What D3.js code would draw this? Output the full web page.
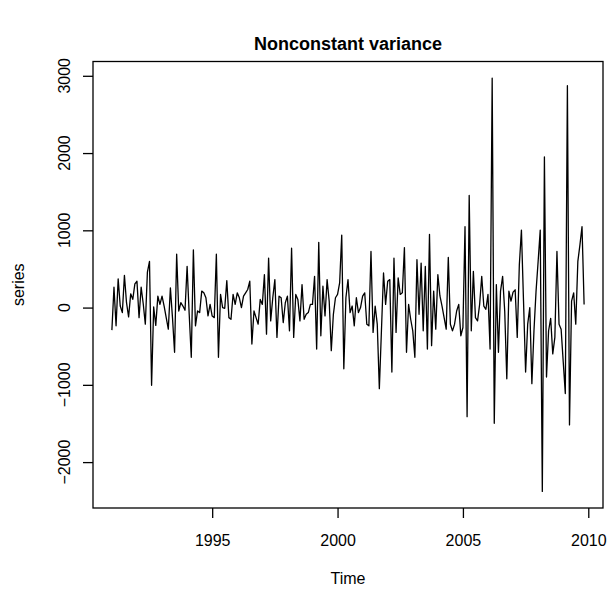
<!DOCTYPE html>
<html>
<head>
<meta charset="utf-8">
<script src="https://cdn.jsdelivr.net/npm/d3@7"></script>
<style>
  html, body { margin: 0; padding: 0; background: #fff; }
  svg { display: block; font-family: "Liberation Sans", Arial, Helvetica, sans-serif; }
</style>
</head>
<body>
<svg id="chart" width="609" height="596"></svg>
<script>
// ---- data ----
const chartTitle = "Nonconstant variance";
const xLabel = "Time";
const yLabel = "series";
const startYear = 1991;
const frequency = 12;
const seriesValues = [
  -292, 264, -236, 371, 20, -65, 418, 63, -121, 178, 106, 307,
  341, -130, 264, 50, -215, 460, 597, -1006, 8, -230, 148, 41,
  148, 20, -130, -280, 255, -130, -579, 691, -44, 63, 20, -35,
  533, -87, -643, 747, -236, -44, -65, 213, 191, 127, -108, 41,
  -110, -130, 691, -643, 170, 0, -10, 349, -130, -151, 170, 41,
  191, 127, 0, 148, 191, 234, 341, -472, -44, -130, -215, 106,
  41, 426, -344, 640, -172, 127, 362, -386, 148, 127, -194, 63,
  148, -301, 768, -386, 170, 106, -172, 298, -151, -87, -65, 41,
  41, 405, -536, 845, -365, 277, -108, 362, 84, -557, -87, 127,
  170, 319, 939, -793, 127, 362, -65, 20, -236, 127, -65, 0,
  148, 191, -215, -236, 726, -322, 20, -215, -1049, -300, 448, 41,
  341, 362, -835, 640, -322, 384, 170, 191, 777, -579, 41, -151,
  -301, -643, 619, -87, 576, -301, 533, -536, 948, -493, 213, -280,
  426, 150, 20, -130, -280, 650, -215, -301, -215, -44, 41, -365,
  -258, 1047, -1412, 1452, -301, 469, -130, -172, 41, 405, 20, -22,
  170, -536, 2971, -1498, 298, -579, 213, 405, -44, -921, 213, 84,
  200, 230, -386, 554, 1003, 84, -835, -215, 0, -985, -301, 213,
  600, 1003, -2380, 1950, -899, -300, -140, -600, -386, 726, -215, -280,
  -700, -1113, 2871, -1519, 84, 191, -215, 597, 811, 1047, 41
];
const xTickValues = [1995, 2000, 2005, 2010];
const yTickValues = [-2000, -1000, 0, 1000, 2000, 3000];

// ---- layout ----
const box = { left: 93, right: 603, top: 61.5, bottom: 508 };
const fontSize = 16;
const tickLen = 10;

const points = seriesValues.map((v, i) => ({ t: startYear + i / frequency, v }));
const t0 = d3.min(points, d => d.t), t1 = d3.max(points, d => d.t);
const tr = t1 - t0;
const vmin = d3.min(points, d => d.v), vmax = d3.max(points, d => d.v);
const vr = vmax - vmin;

const x = d3.scaleLinear().domain([t0 - 0.04 * tr, t1 + 0.04 * tr]).range([box.left, box.right]);
const y = d3.scaleLinear().domain([vmin - 0.04 * vr, vmax + 0.04 * vr]).range([box.bottom, box.top]);

const svg = d3.select("#chart");
const fmt = v => (v < 0 ? "\u2212" + Math.abs(v) : String(v));

// series line
svg.append("path")
  .datum(points)
  .attr("fill", "none")
  .attr("stroke", "#000")
  .attr("stroke-width", 1.3)
  .attr("stroke-linejoin", "round")
  .attr("d", d3.line().x(d => x(d.t)).y(d => y(d.v)));

// box
svg.append("rect")
  .attr("x", box.left).attr("y", box.top)
  .attr("width", box.right - box.left).attr("height", box.bottom - box.top)
  .attr("fill", "none").attr("stroke", "#000").attr("stroke-width", 1.3);

// x axis
const gx = svg.append("g")
  .attr("transform", `translate(0,${box.bottom})`)
  .call(d3.axisBottom(x).tickValues(xTickValues).tickSize(tickLen).tickPadding(17).tickFormat(d3.format("d")));
gx.select(".domain").remove();
gx.selectAll(".tick line").attr("stroke", "#000").attr("stroke-width", 1.3);
gx.selectAll(".tick text").attr("font-size", fontSize).attr("fill", "#000")
  .attr("font-family", "Liberation Sans, Arial, sans-serif");

// y axis
const gy = svg.append("g")
  .attr("transform", `translate(${box.left},0)`)
  .call(d3.axisLeft(y).tickValues(yTickValues).tickSize(tickLen).tickFormat(""));
gy.select(".domain").remove();
gy.selectAll(".tick line").attr("stroke", "#000").attr("stroke-width", 1.3);

svg.append("g").selectAll("text")
  .data(yTickValues)
  .join("text")
  .attr("transform", d => `translate(70,${y(d)}) rotate(-90)`)
  .attr("text-anchor", "middle")
  .attr("font-size", fontSize)
  .text(d => fmt(d));

// labels
svg.append("text")
  .attr("x", (box.left + box.right) / 2).attr("y", 50)
  .attr("text-anchor", "middle")
  .attr("font-size", 18).attr("font-weight", "bold")
  .text(chartTitle);

svg.append("text")
  .attr("x", (box.left + box.right) / 2).attr("y", 584)
  .attr("text-anchor", "middle")
  .attr("font-size", fontSize)
  .text(xLabel);

svg.append("text")
  .attr("transform", `translate(24,${(box.top + box.bottom) / 2}) rotate(-90)`)
  .attr("text-anchor", "middle")
  .attr("font-size", fontSize)
  .text(yLabel);
</script>
</body>
</html>
